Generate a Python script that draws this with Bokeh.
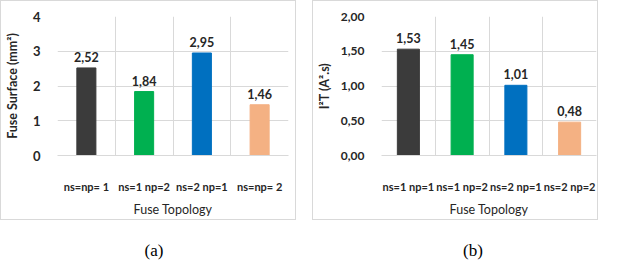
from bokeh.plotting import figure
from bokeh.models import Range1d, FixedTicker, ColumnDataSource, Div
from bokeh.layouts import column, row, Spacer
from bokeh.core.properties import value
from bokeh.embed import file_html
from bokeh.resources import INLINE

# ---- data ----
cats_a = ["ns=np= 1", "ns=1 np=2", "ns=2 np=1", "ns=np= 2"]
vals_a = [2.52, 1.84, 2.95, 1.46]
labels_a = ["2,52", "1,84", "2,95", "1,46"]
yticks_a = [0, 1, 2, 3, 4]
yticklabels_a = ["0", "1", "2", "3", "4"]

cats_b = ["ns=1 np=1", "ns=1 np=2", "ns=2 np=1", "ns=2 np=2"]
vals_b = [1.53, 1.45, 1.01, 0.48]
labels_b = ["1,53", "1,45", "1,01", "0,48"]
yticks_b = [0, 0.5, 1.0, 1.5, 2.0]
yticklabels_b = ["0,00", "0,50", "1,00", "1,50", "2,00"]

colors = ["#3b3b3b", "#00b050", "#0070c0", "#f4b183"]
FONT = "Lato"
TXT = "#262626"


def make_chart(cats, vals, labels, yticks, yticklabels, ytitle, width, bar_w,
               left_border, right_border, ytick_size, ytitle_standoff):
    xs = list(range(1, len(cats) + 1))
    src = ColumnDataSource(dict(x=xs, top=vals, color=colors, label=labels))
    p = figure(width=width, height=220, output_backend="svg", toolbar_location=None,
               x_range=Range1d(0.5, len(cats) + 0.5),
               y_range=Range1d(yticks[0], yticks[-1]),
               min_border_left=left_border, min_border_right=right_border,
               min_border_top=15, min_border_bottom=66)
    p.vbar(x="x", top="top", width=bar_w, color="color", source=src)
    p.text(x="x", y="top", text="label", source=src, text_align="center",
           text_baseline="bottom", y_offset=-6, text_font=value(FONT),
           text_font_size="12.5px", text_font_style="bold", text_color=TXT)
    p.outline_line_color = None
    p.styles = {"border": "1px solid #d9d9d9"}

    p.xaxis.ticker = FixedTicker(ticks=xs)
    p.xaxis.major_label_overrides = {x: c for x, c in zip(xs, cats)}
    p.xaxis.axis_label = "Fuse Topology"
    p.yaxis.ticker = FixedTicker(ticks=yticks)
    p.yaxis.major_label_overrides = {t: l for t, l in zip(yticks, yticklabels)}
    p.yaxis.axis_label = ytitle

    for ax in (p.xaxis[0], p.yaxis[0]):
        ax.major_tick_line_color = None
        ax.minor_tick_line_color = None
        ax.major_label_text_font = FONT
        ax.major_label_text_font_style = "bold"
        ax.major_label_text_color = TXT
        ax.axis_label_text_font = FONT
        ax.axis_label_text_color = TXT
        ax.axis_label_text_font_size = "12.5px"
    p.xaxis.major_label_text_font_size = "11px"
    p.yaxis.major_label_text_font_size = ytick_size
    p.yaxis.axis_line_color = None
    p.xaxis.axis_line_color = "#d9d9d9"
    p.xaxis.major_label_standoff = 18
    p.xaxis.axis_label_standoff = 6
    p.xaxis.axis_label_text_font_style = "normal"
    p.yaxis.axis_label_text_font_style = "bold"
    p.yaxis.major_label_standoff = 11
    p.yaxis.axis_label_standoff = ytitle_standoff

    p.xgrid.ticker = FixedTicker(ticks=[x - 0.5 for x in xs] + [xs[-1] + 0.5])
    p.ygrid.ticker = FixedTicker(ticks=yticks)
    p.xgrid.grid_line_color = "#d9d9d9"
    p.ygrid.grid_line_color = "#d9d9d9"
    return p


pa = make_chart(cats_a, vals_a, labels_a, yticks_a, yticklabels_a,
                "Fuse Surface (mm²)", 296, 0.33, 51, 9, "13px", 10)
pb = make_chart(cats_b, vals_b, labels_b, yticks_b, yticklabels_b,
                "I²T (A².s)", 286, 0.41, 56, 3, "12px", 6)

cap_style = {"font-family": "Liberation Serif", "font-size": "17px",
             "text-align": "center", "width": "100%", "color": "#000",
             "padding-top": "14px"}
cap_a = Div(text="(a)", width=298, height=34, styles=cap_style)
cap_b = Div(text="(b)", width=288, height=34, styles=cap_style)

layout = column(row(pa, Spacer(width=16), pb),
                row(cap_a, Spacer(width=16), cap_b), spacing=0)

open("out.html", "w").write(file_html(layout, INLINE))
